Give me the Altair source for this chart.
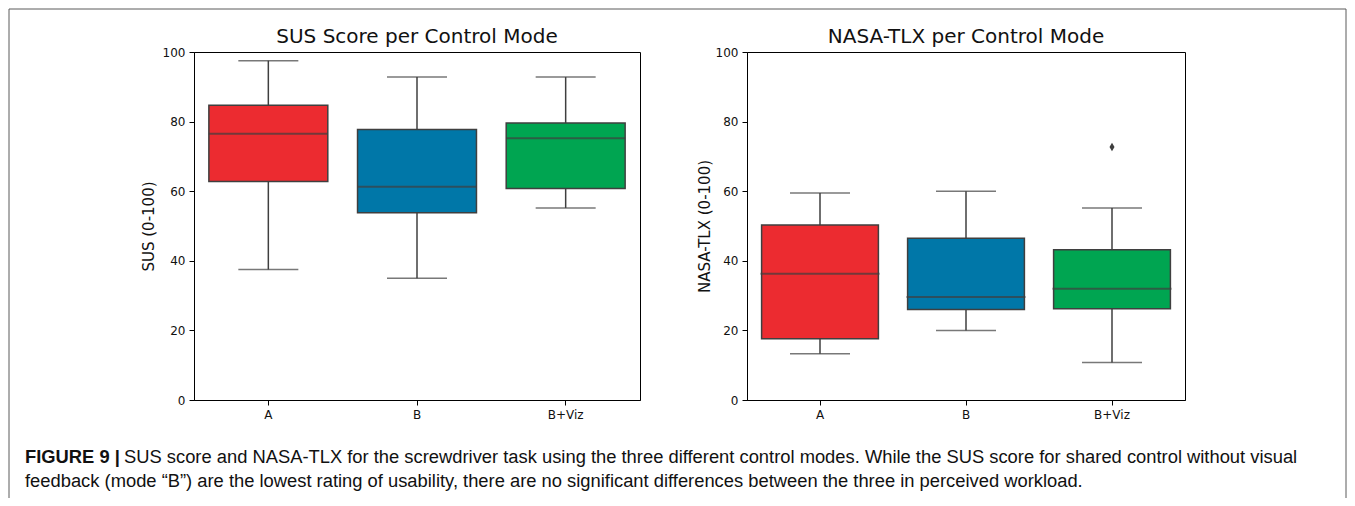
import altair as alt
import pandas as pd

modes = ["A", "B", "B+Viz"]
box_colors = ["#EC2B30", "#0077A8", "#00A551"]
edge = "#3f3f3f"

# SUS panel (box statistics)
sus_low = [37.5, 35.0, 55.2]
sus_q1 = [62.8, 53.8, 60.8]
sus_med = [76.5, 61.3, 75.2]
sus_q3 = [84.7, 77.7, 79.6]
sus_high = [97.5, 92.8, 92.8]
sus_out_mode = []
sus_out_val = []

# NASA-TLX panel
tlx_low = [13.3, 20.0, 10.8]
tlx_q1 = [17.6, 26.0, 26.2]
tlx_med = [36.3, 29.6, 32.0]
tlx_q3 = [50.3, 46.5, 43.2]
tlx_high = [59.5, 60.0, 55.2]
tlx_out_mode = ["B+Viz"]
tlx_out_val = [72.7]

y_ticks = [0, 20, 40, 60, 80, 100]

panel_titles = ["SUS Score per Control Mode", "NASA-TLX per Control Mode"]
caption_bold = "FIGURE 9 |"
caption_line1 = ("SUS score and NASA-TLX for the screwdriver task using the three different "
                 "control modes. While the SUS score for shared control without visual")
caption_line2 = ("feedback (mode \u201cB\u201d) are the lowest rating of usability, there are no "
                 "significant differences between the three in perceived workload.")

cap_font = "Liberation Sans"
cap_size = 18.35
frame_color = "#5a5a5a"


def text_layer(txt, x, y, **kw):
    return alt.Chart(pd.DataFrame({"t": [txt]})).mark_text(
        baseline="alphabetic", color="#111", **kw).encode(
        text="t:N", x=alt.value(x), y=alt.value(y))


def frame_line(x1, x2, y1, y2):
    return alt.Chart(pd.DataFrame({"k": [0]})).mark_rule(
        color=frame_color, strokeWidth=1).encode(
        x=alt.value(x1), x2=alt.value(x2), y=alt.value(y1), y2=alt.value(y2))


def panel_layers(low, q1, med, q3, high, out_modes, out_vals, ytitle, tpad,
                 ptitle, width):
    df = pd.DataFrame({"mode": modes, "low": low, "q1": q1, "med": med,
                       "q3": q3, "high": high})
    x = alt.X("mode:N", sort=modes,
              scale=alt.Scale(paddingInner=0, paddingOuter=0),
              axis=alt.Axis(title=None, labelAngle=0, labelFontSize=12,
                            labelPadding=4, tickSize=5, labelColor="#111"))
    ysc = alt.Scale(domain=[0, 100], nice=False)
    yax = alt.Axis(title=ytitle, values=y_ticks, grid=False, tickSize=5,
                   labelFontSize=12, labelPadding=4, titleFontSize=15,
                   titleFontWeight="normal", titlePadding=tpad,
                   labelColor="#111", titleColor="#111")
    base = alt.Chart(df).encode(x=x)
    whisk = base.mark_rule(color=edge, strokeWidth=1.5).encode(
        y=alt.Y("low:Q", scale=ysc, axis=yax), y2="high:Q")
    cap_lo = base.mark_tick(color=edge, size=60, thickness=1.5).encode(
        y=alt.Y("low:Q", scale=ysc))
    cap_hi = base.mark_tick(color=edge, size=60, thickness=1.5).encode(
        y=alt.Y("high:Q", scale=ysc))
    box = base.mark_bar(width=alt.RelativeBandSize(0.8), stroke=edge,
                        strokeWidth=1.5).encode(
        y=alt.Y("q1:Q", scale=ysc), y2="q3:Q",
        color=alt.Color("mode:N", scale=alt.Scale(domain=modes, range=box_colors),
                        legend=None))
    med_t = base.mark_tick(color=edge, size=119, thickness=2).encode(
        y=alt.Y("med:Q", scale=ysc))
    layers = [whisk, cap_lo, cap_hi, box, med_t]
    if out_vals:
        odf = pd.DataFrame({"mode": out_modes, "val": out_vals})
        outl = alt.Chart(odf).mark_point(
            shape="M0,-1L0.6,0L0,1L-0.6,0Z", filled=True, size=70,
            color=edge, opacity=1).encode(
            x=alt.X("mode:N", sort=modes), y=alt.Y("val:Q", scale=ysc))
        layers.append(outl)
    layers.append(text_layer(ptitle, width / 2, -9, align="center",
                             font="DejaVu Sans", fontSize=20))
    return layers


# figure frame (top, left, right edges) and caption, relative to the left panel
f_left, f_right, f_top, f_bottom = -185, 1152, -43, 446
frame = [
    frame_line(f_left, f_right, f_top, f_top),
    frame_line(f_left, f_left, f_top, f_bottom),
    frame_line(f_right, f_right, f_top, f_bottom),
]
t_bold = text_layer(caption_bold, -169, 411, align="left", font=cap_font,
                    fontSize=cap_size, fontWeight="bold")
t_l1 = text_layer(caption_line1, -70, 411, align="left", font=cap_font,
                  fontSize=cap_size)
t_l2 = text_layer(caption_line2, -169, 435, align="left", font=cap_font,
                  fontSize=cap_size)

left = alt.layer(
    *panel_layers(sus_low, sus_q1, sus_med, sus_q3, sus_high, sus_out_mode,
                  sus_out_val, "SUS (0-100)", 6, panel_titles[0], 446),
    *frame, t_bold, t_l1, t_l2
).properties(width=446, height=348)

right = alt.layer(
    *panel_layers(tlx_low, tlx_q1, tlx_med, tlx_q3, tlx_high, tlx_out_mode,
                  tlx_out_val, "NASA-TLX (0-100)", 3, panel_titles[1], 438)
).properties(width=438, height=348)

chart = alt.hconcat(left, right, spacing=107, bounds="flush").properties(
    padding=0
).configure(font="DejaVu Sans").configure_view(
    stroke="black", strokeWidth=1
).configure_axis(
    domainColor="black", tickColor="black", domainWidth=1, tickWidth=1
)

chart.save("out.html", embed_options={"renderer": "svg", "actions": False})
